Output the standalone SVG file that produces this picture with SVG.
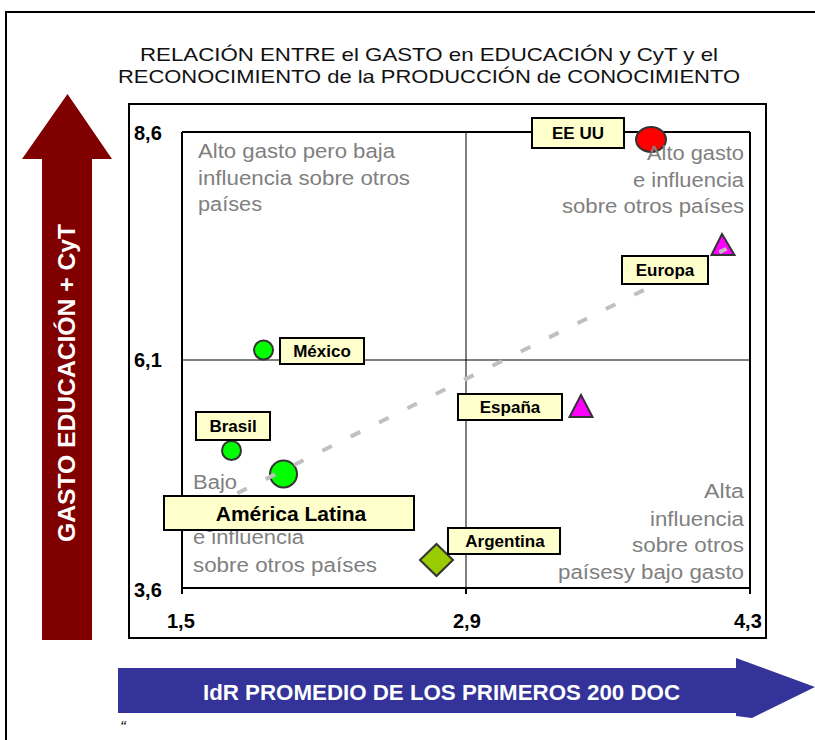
<svg xmlns="http://www.w3.org/2000/svg" width="815" height="740" viewBox="0 0 815 740">
<style>
text{font-family:"Liberation Sans",Arial,sans-serif}
.title{font-size:18.5px;fill:#111;text-anchor:middle}
.quad{font-size:20px;fill:#808080}
.qr{text-anchor:end}
.tick{font-size:20px;font-weight:bold;fill:#000}
.lbl{font-size:17px;font-weight:bold;fill:#000;text-anchor:middle}
.big{font-size:21px}
.box{fill:#FFFFCC;stroke:#000;stroke-width:2}
.mk{stroke:#333;stroke-width:2}
.grid{stroke:#000;stroke-width:1;fill:none}
.axis{stroke:#000;stroke-width:2;fill:none}
</style>
<rect width="815" height="740" fill="#fff"/>
<path d="M6,740 V12 H815" fill="none" stroke="#000" stroke-width="2"/>

<g id="title">
<text class="title" x="429" y="61" textLength="578" lengthAdjust="spacingAndGlyphs">RELACIÓN ENTRE el GASTO en EDUCACIÓN y CyT y el</text>
<text class="title" x="429" y="83" textLength="622" lengthAdjust="spacingAndGlyphs">RECONOCIMIENTO de la PRODUCCIÓN de CONOCIMIENTO</text>
</g>

<g id="y-arrow">
<path d="M42,640 V159 H22 L67.5,94 L112,159 H92 V640 Z" fill="#800000"/>
<text transform="translate(75,383) rotate(-90)" text-anchor="middle" font-size="24" font-weight="bold" fill="#fff" textLength="318" lengthAdjust="spacingAndGlyphs">GASTO EDUCACIÓN + CyT</text>
</g>

<g id="x-arrow">
<path d="M118,668 H736 V658 L815,687 L752,718 L736,716 V713 H118 Z" fill="#333399"/>
<text x="441.5" y="700" text-anchor="middle" font-size="22" font-weight="bold" fill="#fff" textLength="477" lengthAdjust="spacingAndGlyphs">IdR PROMEDIO DE LOS PRIMEROS 200 DOC</text>
</g>
<text x="120" y="733" font-size="17" font-style="italic" fill="#000">“</text>

<g id="chart">
<rect x="129" y="104" width="637" height="534" fill="none" stroke="#000" stroke-width="2"/>
<line class="grid" x1="466" y1="132" x2="466" y2="588"/>
<line class="grid" x1="182" y1="360" x2="750" y2="360"/>
<path class="axis" d="M182,132 H750 M182,132 V594 M750,132 V594 M182,588 H750 M466,588 V594"/>
<text class="tick" x="134" y="140">8,6</text>
<text class="tick" x="134" y="367">6,1</text>
<text class="tick" x="134" y="597">3,6</text>
<text class="tick" x="167" y="628">1,5</text>
<text class="tick" x="453" y="628">2,9</text>
<text class="tick" x="734" y="628">4,3</text>
</g>

<g id="markers">
<ellipse id="m-eeuu" class="mk" cx="651" cy="139.5" rx="15" ry="12.5" fill="#FF0000"/>
<polygon id="m-europa" class="mk" points="722,234 711.5,255 734.5,255" fill="#FF00FF"/>
<polygon id="m-espana" class="mk" points="581,395 569.5,417 592.5,417" fill="#FF00FF"/>
<circle id="m-mexico" class="mk" cx="263.5" cy="350" r="9.5" fill="#00FF00"/>
<circle id="m-brasil" class="mk" cx="231.5" cy="450.5" r="9.5" fill="#00FF00"/>
<circle id="m-al" class="mk" cx="283.5" cy="474" r="13.5" fill="#00FF00"/>
<polygon id="m-argentina" class="mk" points="436.5,544 453,560 436.5,576 420,560" fill="#99CC00"/>
<path d="M203,528 Q210,533.5 217,528" fill="none" stroke="#333" stroke-width="2"/>
</g>

<g id="connectors">
<line x1="237.3" y1="493.3" x2="726.5" y2="248.7" stroke="#C0C0C0" stroke-width="4" stroke-dasharray="10.6 21.1"/>
</g>

<g id="quadrants">
<text class="quad" x="198" y="158" textLength="197" lengthAdjust="spacingAndGlyphs">Alto gasto pero baja</text>
<text class="quad" x="198" y="185" textLength="212" lengthAdjust="spacingAndGlyphs">influencia sobre otros</text>
<text class="quad" x="198" y="211" textLength="64" lengthAdjust="spacingAndGlyphs">países</text>
<text class="quad qr" x="744" y="160" textLength="97" lengthAdjust="spacingAndGlyphs">Alto gasto</text>
<text class="quad qr" x="744" y="187" textLength="111" lengthAdjust="spacingAndGlyphs">e influencia</text>
<text class="quad qr" x="744" y="213" textLength="182" lengthAdjust="spacingAndGlyphs">sobre otros países</text>
<text class="quad qr" x="744" y="498" textLength="40" lengthAdjust="spacingAndGlyphs">Alta</text>
<text class="quad qr" x="744" y="526" textLength="94" lengthAdjust="spacingAndGlyphs">influencia</text>
<text class="quad qr" x="744" y="552" textLength="112" lengthAdjust="spacingAndGlyphs">sobre otros</text>
<text class="quad qr" x="744" y="579" textLength="186" lengthAdjust="spacingAndGlyphs">paísesy bajo gasto</text>
<text class="quad" x="193" y="489" textLength="44" lengthAdjust="spacingAndGlyphs">Bajo</text>
<text class="quad" x="193" y="544" textLength="111" lengthAdjust="spacingAndGlyphs">e influencia</text>
<text class="quad" x="193" y="572" textLength="184" lengthAdjust="spacingAndGlyphs">sobre otros países</text>
</g>

<g id="eeuu"><rect class="box" x="532" y="118" width="92" height="30"/><text class="lbl" x="578" y="139">EE UU</text></g>
<g id="europa"><rect class="box" x="622" y="256" width="86" height="28"/><text class="lbl" x="665" y="276">Europa</text></g>
<g id="mexico"><rect class="box" x="280" y="338" width="84" height="26"/><text class="lbl" x="322" y="357">México</text></g>
<g id="brasil"><rect class="box" x="196" y="412" width="74" height="28"/><text class="lbl" x="233" y="432">Brasil</text></g>
<g id="espana"><rect class="box" x="458" y="394" width="104" height="26"/><text class="lbl" x="510" y="413">España</text></g>
<g id="argentina"><rect class="box" x="448" y="528" width="112" height="26"/><text class="lbl" x="505" y="547">Argentina</text></g>
<g id="america-latina"><rect class="box" x="164" y="496" width="250" height="34"/><text class="lbl big" x="291" y="521">América Latina</text></g>
</svg>
